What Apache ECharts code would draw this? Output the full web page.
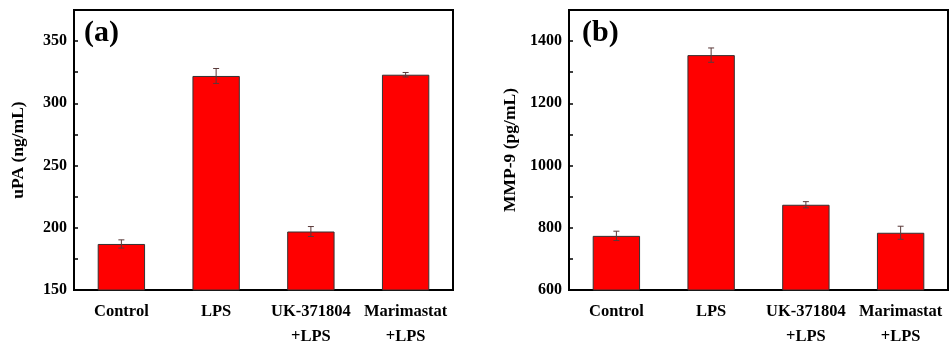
<!DOCTYPE html>
<html>
<head>
<meta charset="utf-8">
<script src="https://cdn.jsdelivr.net/npm/echarts@6/dist/echarts.min.js"></script>
<style>
  html, body { margin: 0; padding: 0; background: #fff; }
  #chart { width: 951px; height: 349px; }
</style>
</head>
<body>
<div id="chart"></div>
<script>
// Datos
const categories = ['Control', 'LPS', 'UK-371804\n+LPS', 'Marimastat\n+LPS'];
const upaValues = [187, 322, 197, 323];
const upaErrors = [3.3, 6, 4, 1.8];
const mmpValues = [774, 1355, 874, 784];
const mmpErrors = [15, 23, 10, 21];

const fontFamily = '"Liberation Serif", "Times New Roman", serif';

// Barras de error dibujadas con la escala del eje
function errorSeries(values, errors, axisIndex) {
    return {
        type: 'custom',
        xAxisIndex: axisIndex,
        yAxisIndex: axisIndex,
        silent: true,
        z: 10,
        data: values.map((v, i) => [i, v - errors[i], v + errors[i]]),
        renderItem: function (params, api) {
            const low = api.coord([api.value(0), api.value(1)]);
            const high = api.coord([api.value(0), api.value(2)]);
            const cap = 3;
            const style = { stroke: '#5a3a3a', lineWidth: 1 };
            return {
                type: 'group',
                children: [
                    { type: 'line', shape: { x1: low[0], y1: low[1], x2: high[0], y2: high[1] }, style: style },
                    { type: 'line', shape: { x1: low[0] - cap, y1: low[1], x2: low[0] + cap, y2: low[1] }, style: style },
                    { type: 'line', shape: { x1: high[0] - cap, y1: high[1], x2: high[0] + cap, y2: high[1] }, style: style }
                ]
            };
        }
    };
}

function xAxisFor(gridIndex) {
    return {
        type: 'category',
        gridIndex: gridIndex,
        data: categories,
        axisLine: { lineStyle: { color: '#000', width: 2 } },
        axisTick: { show: false },
        axisLabel: {
            color: '#000',
            fontFamily: fontFamily,
            fontWeight: 'bold',
            fontSize: 16.5,
            lineHeight: 25,
            margin: 9,
            interval: 0
        }
    };
}

function yAxisFor(gridIndex, min, max, step, labelStep, name, nameGap) {
    return {
        type: 'value',
        gridIndex: gridIndex,
        min: min,
        max: max,
        interval: step,
        name: name,
        nameLocation: 'middle',
        nameGap: nameGap,
        nameTextStyle: { color: '#000', fontFamily: fontFamily, fontWeight: 'bold', fontSize: 17.5 },
        axisLine: { show: true, lineStyle: { color: '#000', width: 2 } },
        axisTick: { show: true, inside: true, length: 4, lineStyle: { color: '#000', width: 1.5 } },
        splitLine: { show: false },
        axisLabel: {
            color: '#000',
            fontFamily: fontFamily,
            fontWeight: 'bold',
            fontSize: 16,
            margin: 7,
            formatter: function (v) { return v % labelStep === 0 && v < max ? String(v) : ''; }
        }
    };
}

const barStyle = { color: '#ff0000', borderColor: '#333', borderWidth: 1 };

const chart = echarts.init(document.getElementById('chart'));

chart.setOption({
    backgroundColor: '#ffffff',
    animation: false,
    grid: [
        { left: 74, right: 498, top: 10, bottom: 56, show: true, borderColor: '#000', borderWidth: 2, backgroundColor: 'transparent' },
        { left: 569, right: 3, top: 10, bottom: 57, show: true, borderColor: '#000', borderWidth: 2, backgroundColor: 'transparent' }
    ],
    xAxis: [xAxisFor(0), xAxisFor(1)],
    yAxis: [
        yAxisFor(0, 150, 375, 25, 50, 'uPA (ng/mL)', 47),
        yAxisFor(1, 600, 1500, 100, 200, 'MMP-9 (pg/mL)', 50)
    ],
    graphic: [
        { type: 'text', left: 84, top: 18, style: { text: '(a)', font: 'bold 30px ' + fontFamily, fill: '#000' } },
        { type: 'text', left: 582, top: 18, style: { text: '(b)', font: 'bold 30px ' + fontFamily, fill: '#000' } }
    ],
    series: [
        { type: 'bar', xAxisIndex: 0, yAxisIndex: 0, data: upaValues, barWidth: '50%', itemStyle: barStyle },
        errorSeries(upaValues, upaErrors, 0),
        { type: 'bar', xAxisIndex: 1, yAxisIndex: 1, data: mmpValues, barWidth: '50%', itemStyle: barStyle },
        errorSeries(mmpValues, mmpErrors, 1)
    ]
});
</script>
</body>
</html>
